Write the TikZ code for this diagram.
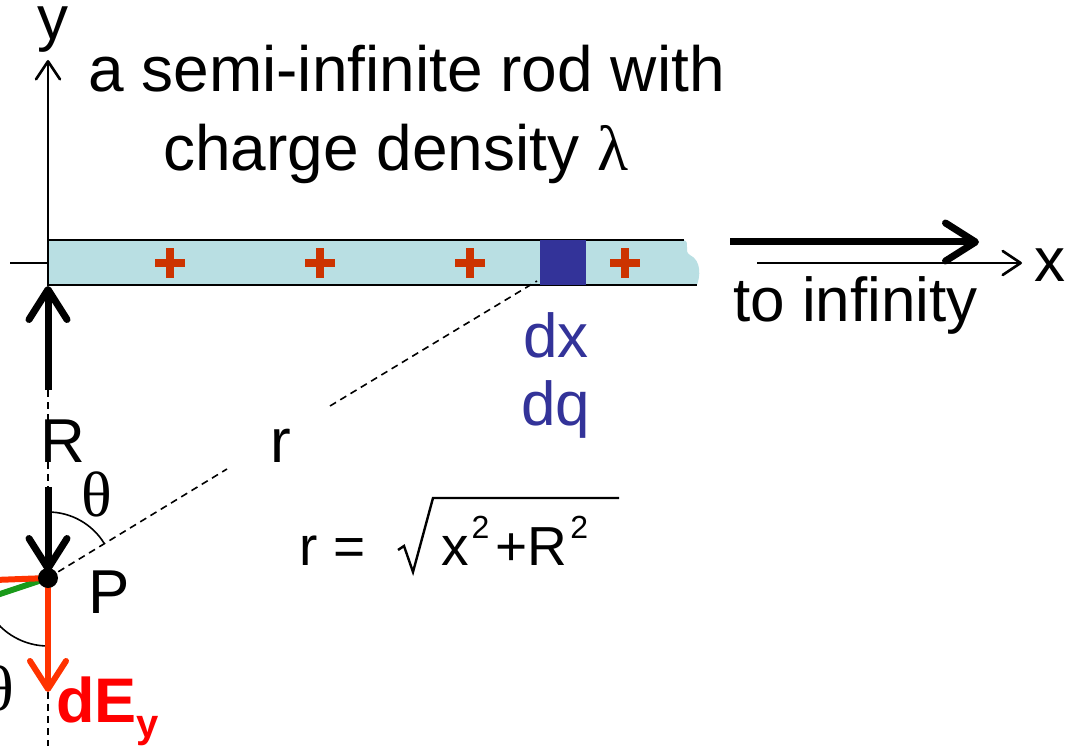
\documentclass[tikz,border=0pt]{standalone}
\usepackage{fontspec}
\setmainfont{Liberation Sans}
\newfontfamily\greekfont{Liberation Serif}
\usetikzlibrary{arrows.meta,calc}
\definecolor{rodfill}{HTML}{B9DFE3}
\definecolor{plusred}{HTML}{CC3300}
\definecolor{dqblue}{HTML}{333399}
\definecolor{fieldred}{HTML}{FF3300}
\definecolor{labelred}{HTML}{FF0000}
\definecolor{fieldgreen}{HTML}{1A9A1A}
\begin{document}
\begin{tikzpicture}[x=1pt,y=1pt,
  txt/.style={inner sep=0pt, font=\fontsize{62}{70}\selectfont},
  title/.style={inner sep=0pt, font=\fontsize{64}{72}\selectfont},
  formula/.style={inner sep=0pt, font=\fontsize{55}{60}\selectfont},
  greek/.style={inner sep=0pt, font=\fontsize{64}{70}\selectfont\greekfont},
  thinaxis/.style={line width=2.6pt, -{Straight Barb[length=18pt,width=24pt,round]}},
  thickarrow/.style={line width=7pt, -{Straight Barb[length=30pt,width=38pt,round]}},
  fieldarrow/.style={line width=6pt, fieldred, -{Straight Barb[length=28pt,width=36pt,round]}},
  guide/.style={line width=1.6pt, dash pattern=on 7pt off 5pt},
  rodline/.style={line width=2pt},
  plussign/.style={fill=plusred},
]
\useasboundingbox (0,0) rectangle (1077,-746);
\clip (0,0) rectangle (1077,-746);

% coordinates
\coordinate (ybot) at (48,-286);
\coordinate (ytop) at (48,-60);
\coordinate (tickL) at (10,-263);
\coordinate (tickR) at (48,-263);
\coordinate (xL) at (757,-263);
\coordinate (xR) at (1022,-263);
\coordinate (infL) at (730,-242);
\coordinate (infR) at (979,-242);
\coordinate (P) at (48,-578);
\coordinate (dxc) at (537,-281);
\coordinate (rgapA) at (227,-469);
\coordinate (rgapB) at (330,-406);
\coordinate (upS) at (48,-390);
\coordinate (upE) at (48,-286);
\coordinate (dnS) at (48,-487);
\coordinate (dnE) at (48,-572);
\coordinate (eyE) at (48,-692);
\coordinate (bottom) at (48,-746);
\coordinate (exL) at (-5,-580);
\coordinate (gE) at (-60,-614);

% rod
\fill[rodfill] (48,-240) -- (684,-240) .. controls (691,-243) and (683,-251) .. (690,-255)
  .. controls (702,-261) and (700,-277) .. (697,-285) -- (48,-285) -- cycle;
\draw[rodline] (48,-240) -- (684,-240);
\draw[rodline] (48,-285) -- (697,-285);
\fill[dqblue] (540,-240) rectangle (586,-285);
\foreach \px in {170,320,470,625}{
  \fill[plussign] (\px-15,-263-4) rectangle (\px+15,-263+4);
  \fill[plussign] (\px-4,-263-15) rectangle (\px+4,-263+15);
}

% axes
\draw[thinaxis] (ybot) -- (ytop);
\draw[line width=2.6pt] (tickL) -- (tickR);
\draw[thinaxis] (xL) -- (xR);
\draw[thickarrow] (infL) -- (infR);

% guides
\draw[guide] (P) -- (rgapA);
\draw[guide] (rgapB) -- (dxc);
\draw[guide] (upS) -- (dnS);
\draw[guide] (eyE) -- (bottom);
\draw[line width=1.6pt] ($(P)+(90:66)$) arc[start angle=90,end angle=31.3,radius=66];
\draw[line width=1.6pt] ($(P)+(211.3:68)$) arc[start angle=211.3,end angle=270,radius=68];

% R arrows
\draw[thickarrow] (upS) -- (upE);
\draw[thickarrow] (dnS) -- (dnE);

% field components
\draw[line width=6pt, fieldgreen] (P) -- (gE);
\draw[line width=6pt, fieldred] (exL) -- (P);
\draw[fieldarrow] (P) -- (eyE);
\fill (P) circle (10);

% radical
\draw[line width=2.4pt, line join=miter] (398,-550) -- (404,-546) -- (413,-572) -- (433,-498) -- (619,-498);

% texts
\node[title, anchor=base west] (t1) at (88,-92) {a semi-infinite rod with};
\node[title, anchor=base west] (t2) at (163,-171) {charge density {\greekfont λ}};
\node[txt, anchor=base] (ylab) at (53,-40) {y};
\node[txt, anchor=base] (xlab) at (1050,-282) {x};
\node[txt, anchor=base west] (inf) at (733,-321) {to infinity};
\node[txt, anchor=base, text=dqblue] (dx) at (556,-357) {dx};
\node[txt, anchor=base, text=dqblue] (dq) at (556,-425) {dq};
\node[txt, anchor=base west] (Rlab) at (40,-462) {R};
\node[txt, anchor=base west] (rlab) at (270,-462) {r};
\node[greek] (th1) at (97,-494) {θ};
\node[greek] (th2) at (-1,-688) {θ};
\node[formula, anchor=base west] (req) at (299,-565) {r};
\node[formula, anchor=base west] (eq) at (333,-565) {=};
\node[formula, anchor=base west] (rad) at (441,-565) {x\hspace{3pt}\raisebox{27pt}{\fontsize{32}{40}\selectfont 2}\hspace{6pt}+R\hspace{3pt}\raisebox{27pt}{\fontsize{32}{40}\selectfont 2}};
\node[txt, anchor=base west] (Plab) at (88,-613) {P};
\node[inner sep=0pt, anchor=base west, text=labelred, font=\fontsize{63}{70}\selectfont\bfseries] (dEy) at (56,-722) {dE\raisebox{-15pt}{\fontsize{40}{44}\selectfont y}};
\end{tikzpicture}
\end{document}
